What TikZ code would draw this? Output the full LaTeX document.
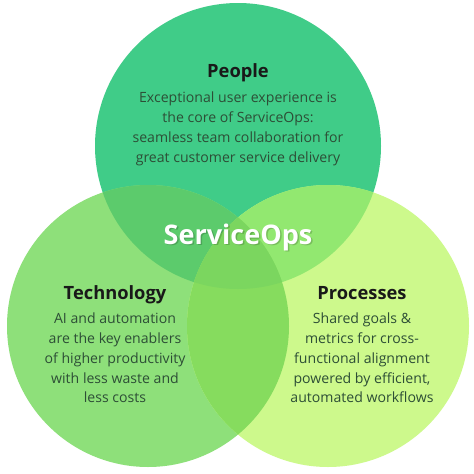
\documentclass[tikz,border=0pt]{standalone}
\usepackage{fontspec}
\setmainfont{Open Sans}
\begin{document}
\begin{tikzpicture}[x=1pt,y=-1pt,
  title/.style={font=\fontsize{18.3}{21}\selectfont\bfseries, text=black!90, inner sep=0pt, anchor=base},
  body/.style={font=\fontsize{14.1}{19.7}\selectfont, text=bodytxt, align=center, inner sep=0pt, anchor=north}]
\definecolor{ctop}{HTML}{40CC88}
\definecolor{cleft}{HTML}{8EE07A}
\definecolor{cright}{HTML}{CDF98C}
\definecolor{ctl}{HTML}{5CCB6C}
\definecolor{ctr}{HTML}{92E870}
\definecolor{clr}{HTML}{86DC5E}
\definecolor{cmid}{HTML}{7BD65F}
\definecolor{bodytxt}{HTML}{2D4E36}
\useasboundingbox (0,0) rectangle (474,474);
\fill[white] (0,0) rectangle (474,474);
\coordinate (T) at (238,146);
\coordinate (L) at (148,326);
\coordinate (R) at (328,326);
\def\rT{143}\def\rL{141}
\fill[ctop] (T) circle[radius=\rT];
\fill[cleft] (L) circle[radius=\rL];
\fill[cright] (R) circle[radius=\rL];
\begin{scope}\clip (T) circle[radius=\rT]; \fill[ctl] (L) circle[radius=\rL];\end{scope}
\begin{scope}\clip (T) circle[radius=\rT]; \fill[ctr] (R) circle[radius=\rL];\end{scope}
\begin{scope}\clip (L) circle[radius=\rL]; \fill[clr] (R) circle[radius=\rL];\end{scope}
\begin{scope}\clip (T) circle[radius=\rT]; \clip (L) circle[radius=\rL]; \fill[cmid] (R) circle[radius=\rL];\end{scope}
\node[title] (people) at (238,77) {People};
\node[body] (peopletxt) at (238,92) {Exceptional user experience is\\the core of ServiceOps:\\seamless team collaboration for\\great customer service delivery};
\node[title] (tech) at (115,299) {Technology};
\node[body] (techtxt) at (115,313) {AI and automation\\are the key enablers\\of higher productivity\\with less waste and\\less costs};
\node[title] (proc) at (362,299) {Processes};
\node[body] (proctxt) at (362,313) {Shared goals \&\\metrics for cross-\\functional alignment\\powered by efficient,\\automated workflows};
\node[font=\fontsize{27}{30}\selectfont\bfseries, text=black, opacity=0.18, anchor=base] (shadow) at (239.5,245.5) {ServiceOps};
\node[font=\fontsize{27}{30}\selectfont\bfseries, text=white, anchor=base] (center) at (238,244) {ServiceOps};
\end{tikzpicture}
\end{document}
